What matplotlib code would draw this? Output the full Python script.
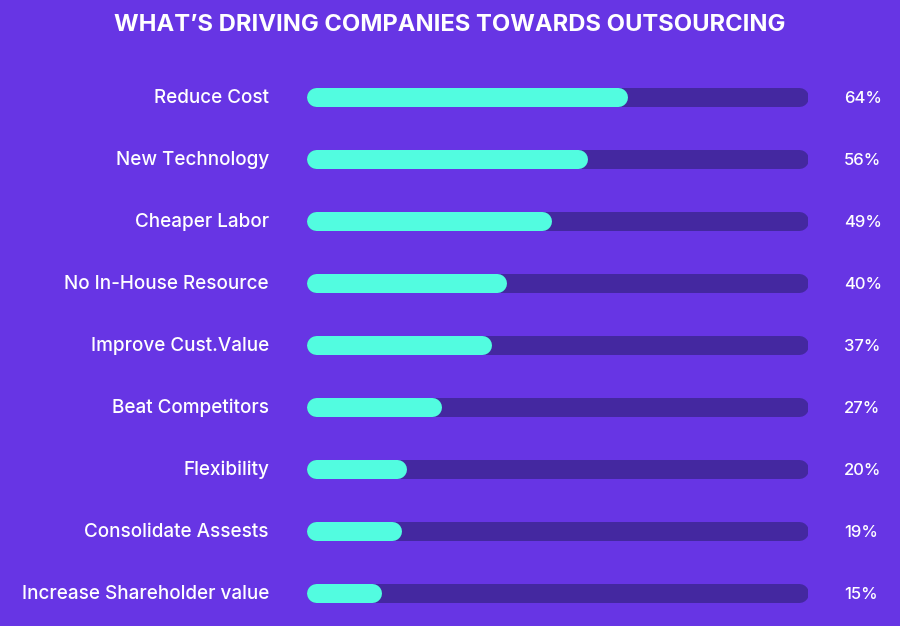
import matplotlib.pyplot as plt

# data
labels = ['Reduce Cost', 'New Technology', 'Cheaper Labor', 'No In-House Resource',
          'Improve Cust.Value', 'Beat Competitors', 'Flexibility',
          'Consolidate Assests', 'Increase Shareholder value']
values = [64, 56, 49, 40, 37, 27, 20, 19, 15]

bg = '#6735E4'
track = '#4428A0'
fill = '#52FCE0'

W, H, DPI = 900, 626, 100
fig = plt.figure(figsize=(W / DPI, H / DPI), dpi=DPI, facecolor=bg)

# bar area in pixels: x 306..808, rows centred at 97 .. 593 (step 62)
x0, x1 = 306, 808
y_top, y_bot = 66, 624
ax = fig.add_axes([x0 / W, 1 - y_bot / H, (x1 - x0) / W, (y_bot - y_top) / H])
ax.set_facecolor(bg)
ax.set_xlim(0, 100)
ax.set_ylim(len(labels) - 0.5, -0.5)
ax.axis('off')

bar_px = 19
lw = bar_px * 72 / DPI
r = (bar_px / 2) / (x1 - x0) * 100  # cap radius in data units

for i, (lab, v) in enumerate(zip(labels, values)):
    ax.plot([r, 100 - r], [i, i], color=track, lw=lw, solid_capstyle='round')
    ax.plot([r, v - r], [i, i], color=fill, lw=lw, solid_capstyle='round')
    ax.text(-37 / (x1 - x0) * 100, i + 0.02, lab, ha='right', va='center',
            color='white', fontsize=13.6, fontweight='medium', family='Inter')
    ax.text(107.2, i + 0.02, f'{v}%', ha='left', va='center',
            color='white', fontsize=12, fontweight='medium', family='Inter')

fig.text(0.5, 1 - 25 / H, 'WHAT’S DRIVING COMPANIES TOWARDS OUTSOURCING',
         ha='center', va='center', color='white', fontsize=17.1,
         fontweight='bold', family='Inter')

fig.savefig('out.png', dpi=DPI, facecolor=bg)
